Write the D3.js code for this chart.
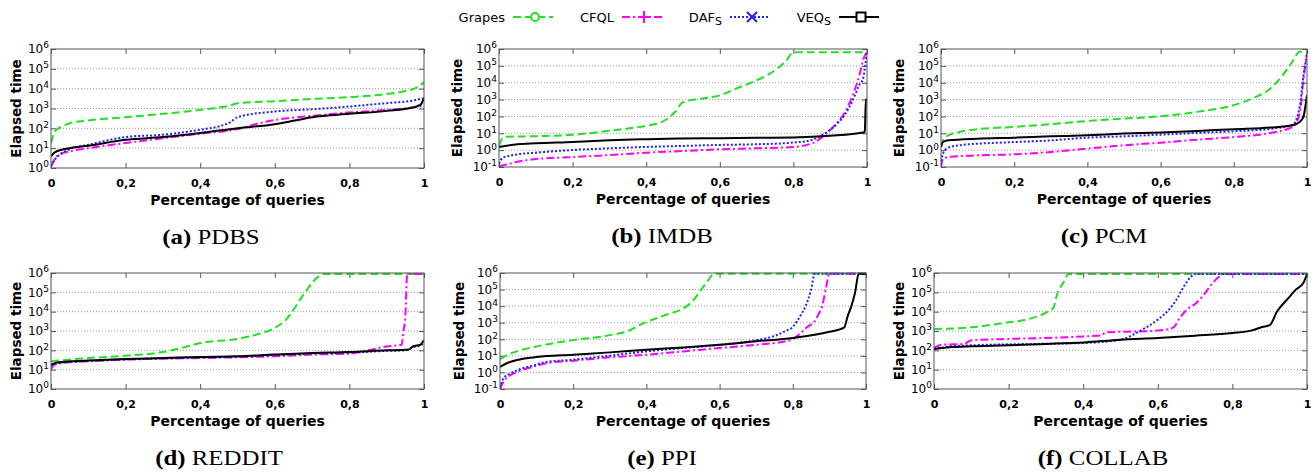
<!DOCTYPE html>
<html>
<head>
<meta charset="utf-8">
<script src="https://cdn.jsdelivr.net/npm/d3@7"></script>
<style>
  body { margin: 0; background: #fff; }
  svg { display: block; }
</style>
</head>
<body>
<svg id="chart" width="1316" height="472"></svg>
<script>
// --- data ---
// each point: [fraction of queries, log10(elapsed time)]
const algorithms = ["Grapes", "CFQL", "DAF", "VEQ"];
const algorithmSubs = ["", "", "S", "S"];
const xTicks = [0, 0.2, 0.4, 0.6, 0.8, 1];
const xTickLabels = ["0", "0,2", "0,4", "0,6", "0,8", "1"];

// (a) PDBS
const pdbsGrapes = [[0,1.26],[0.005,1.6],[0.01,1.84],[0.03,2.1],[0.05,2.26],[0.1,2.4],[0.2,2.56],[0.3,2.73],[0.4,2.93],[0.45,3.05],[0.48,3.15],[0.5,3.27],[0.6,3.37],[0.7,3.48],[0.8,3.57],[0.9,3.73],[0.95,3.88],[0.98,4.05],[1,4.32]];
const pdbsCfql = [[0,0.08],[0.01,0.45],[0.02,0.67],[0.05,0.84],[0.1,1.0],[0.2,1.26],[0.3,1.5],[0.4,1.73],[0.5,1.96],[0.55,2.22],[0.6,2.42],[0.7,2.63],[0.8,2.8],[0.9,2.93],[0.97,3.05],[1,3.13]];
const pdbsDafs = [[0,0.08],[0.01,0.42],[0.03,0.75],[0.05,0.95],[0.1,1.17],[0.2,1.56],[0.3,1.68],[0.4,1.93],[0.45,2.1],[0.48,2.3],[0.5,2.56],[0.6,2.85],[0.7,2.96],[0.8,3.1],[0.9,3.27],[0.97,3.4],[1,3.52]];
const pdbsVeqs = [[0,0.59],[0.01,0.79],[0.05,1.0],[0.1,1.12],[0.2,1.42],[0.3,1.56],[0.4,1.76],[0.5,2.01],[0.6,2.21],[0.65,2.38],[0.7,2.56],[0.8,2.73],[0.9,2.88],[0.97,3.05],[0.99,3.18],[1,3.52]];

// (b) IMDB
const imdbGrapes = [[0,0.25],[0.005,0.55],[0.01,0.71],[0.02,0.79],[0.1,0.83],[0.2,0.91],[0.3,1.15],[0.4,1.45],[0.44,1.65],[0.46,1.9],[0.48,2.3],[0.5,2.85],[0.55,3.05],[0.6,3.25],[0.65,3.7],[0.7,4.14],[0.75,4.74],[0.78,5.3],[0.8,5.8],[1,5.8]];
const imdbCfql = [[0,-0.95],[0.02,-0.85],[0.05,-0.69],[0.1,-0.53],[0.2,-0.41],[0.3,-0.29],[0.4,-0.15],[0.5,-0.05],[0.6,0.05],[0.7,0.11],[0.8,0.19],[0.85,0.4],[0.88,0.8],[0.9,1.2],[0.92,1.65],[0.94,2.25],[0.96,3.2],[0.98,4.5],[0.99,5.4],[1,5.84]];
const imdbDafs = [[0,-0.81],[0.01,-0.45],[0.05,-0.25],[0.1,-0.15],[0.2,0.01],[0.3,0.11],[0.4,0.19],[0.5,0.25],[0.6,0.31],[0.7,0.35],[0.8,0.45],[0.85,0.6],[0.87,0.8],[0.9,1.2],[0.92,1.6],[0.94,2.1],[0.96,2.9],[0.98,3.9],[0.99,4.3],[0.995,5.0],[1,5.84]];
const imdbVeqs = [[0,0.19],[0.05,0.35],[0.1,0.41],[0.2,0.49],[0.3,0.59],[0.4,0.65],[0.5,0.69],[0.6,0.71],[0.7,0.73],[0.8,0.75],[0.9,0.85],[0.99,1.05],[0.994,1.1],[0.997,3.0],[1,3.0]];

// (c) PCM
const pcmGrapes = [[0,0.19],[0.005,0.58],[0.02,0.88],[0.05,1.08],[0.1,1.24],[0.2,1.38],[0.3,1.54],[0.4,1.73],[0.5,1.87],[0.6,2.01],[0.7,2.27],[0.8,2.67],[0.85,3.06],[0.9,3.66],[0.93,4.35],[0.96,5.25],[0.98,5.84],[1,5.84]];
const pcmCfql = [[0,-1.0],[0.005,-0.5],[0.02,-0.41],[0.1,-0.31],[0.2,-0.25],[0.3,-0.11],[0.4,0.09],[0.5,0.29],[0.6,0.44],[0.7,0.62],[0.8,0.78],[0.9,1.02],[0.96,1.38],[0.98,2.17],[0.99,4.15],[1,5.74]];
const pcmDafs = [[0,-0.9],[0.005,-0.21],[0.02,0.15],[0.05,0.29],[0.1,0.38],[0.2,0.48],[0.3,0.58],[0.4,0.74],[0.5,0.82],[0.6,0.92],[0.7,1.02],[0.8,1.12],[0.9,1.26],[0.96,1.48],[0.98,2.57],[0.99,4.35],[1,5.74]];
const pcmVeqs = [[0,0.19],[0.005,0.48],[0.02,0.58],[0.1,0.68],[0.2,0.74],[0.3,0.82],[0.4,0.88],[0.5,0.98],[0.6,1.04],[0.7,1.14],[0.8,1.24],[0.9,1.34],[0.96,1.48],[0.98,1.67],[0.99,1.97],[1,3.26]];

// (d) REDDIT
const redditGrapes = [[0,1.43],[0.02,1.47],[0.1,1.6],[0.2,1.72],[0.3,1.91],[0.35,2.12],[0.4,2.38],[0.5,2.59],[0.55,2.81],[0.6,3.16],[0.63,3.59],[0.65,4.1],[0.68,4.97],[0.72,5.86],[0.73,5.95],[1,5.95]];
const redditCfql = [[0,1.0],[0.01,1.26],[0.05,1.38],[0.1,1.43],[0.2,1.52],[0.3,1.57],[0.4,1.6],[0.5,1.64],[0.6,1.69],[0.7,1.78],[0.8,1.83],[0.85,2.0],[0.9,2.2],[0.94,2.29],[0.945,3.0],[0.95,3.76],[0.955,5.95],[1,5.95]];
const redditDafs = [[0,1.2],[0.02,1.35],[0.1,1.45],[0.2,1.53],[0.3,1.58],[0.4,1.63],[0.5,1.67],[0.6,1.75],[0.7,1.83],[0.8,1.88],[0.9,1.97],[0.95,2.0],[0.97,2.15],[0.99,2.25],[1,2.4]];
const redditVeqs = [[0,1.26],[0.02,1.38],[0.1,1.47],[0.2,1.55],[0.3,1.6],[0.4,1.66],[0.5,1.69],[0.6,1.78],[0.7,1.86],[0.8,1.91],[0.9,2.0],[0.95,2.03],[0.96,2.05],[0.97,2.2],[0.99,2.29],[1,2.52]];

// (e) PPI
const ppiGrapes = [[0,0.8],[0.02,1.05],[0.05,1.3],[0.1,1.57],[0.2,1.95],[0.3,2.25],[0.35,2.5],[0.39,2.95],[0.45,3.45],[0.51,4.0],[0.53,4.4],[0.55,5.0],[0.57,5.6],[0.585,5.96],[1,5.96]];
const ppiCfql = [[0,-1.0],[0.01,-0.54],[0.03,-0.14],[0.05,0.06],[0.1,0.41],[0.12,0.53],[0.2,0.71],[0.3,0.91],[0.4,1.07],[0.5,1.27],[0.6,1.47],[0.7,1.67],[0.78,1.88],[0.8,2.0],[0.82,2.35],[0.84,2.75],[0.86,3.1],[0.87,3.5],[0.88,4.0],[0.89,5.0],[0.9,5.96],[1,5.96]];
const ppiDafs = [[0,-0.94],[0.01,-0.34],[0.03,-0.04],[0.05,0.16],[0.1,0.47],[0.12,0.61],[0.2,0.77],[0.3,1.01],[0.4,1.27],[0.5,1.47],[0.6,1.67],[0.7,1.95],[0.75,2.2],[0.78,2.5],[0.8,2.75],[0.82,3.4],[0.835,4.0],[0.85,5.0],[0.86,5.96],[1,5.96]];
const ppiVeqs = [[0,0.33],[0.02,0.57],[0.05,0.77],[0.1,0.93],[0.2,1.07],[0.3,1.21],[0.4,1.37],[0.5,1.51],[0.6,1.67],[0.7,1.88],[0.8,2.08],[0.9,2.45],[0.94,2.7],[0.95,3.4],[0.96,4.0],[0.97,4.8],[0.98,5.96],[1,5.96]];

// (f) COLLAB
const collabGrapes = [[0,3.1],[0.1,3.19],[0.2,3.45],[0.25,3.6],[0.3,3.95],[0.32,4.2],[0.33,4.9],[0.35,5.6],[0.36,5.95],[1,5.95]];
const collabCfql = [[0,2.12],[0.02,2.29],[0.08,2.33],[0.1,2.52],[0.2,2.59],[0.3,2.64],[0.4,2.72],[0.45,2.78],[0.46,2.93],[0.55,2.98],[0.6,3.02],[0.64,3.16],[0.66,3.7],[0.68,4.15],[0.7,4.4],[0.72,4.79],[0.74,5.31],[0.76,5.74],[0.775,5.95],[1,5.95]];
const collabDafs = [[0,2.07],[0.05,2.21],[0.1,2.26],[0.2,2.31],[0.3,2.34],[0.4,2.38],[0.5,2.55],[0.55,2.98],[0.6,3.59],[0.63,4.1],[0.65,4.62],[0.67,5.31],[0.69,5.83],[0.7,5.95],[1,5.95]];
const collabVeqs = [[0,2.07],[0.05,2.17],[0.1,2.21],[0.2,2.26],[0.3,2.33],[0.4,2.41],[0.5,2.55],[0.6,2.64],[0.7,2.76],[0.8,2.9],[0.85,3.02],[0.88,3.21],[0.9,3.3],[0.92,4.02],[0.95,4.7],[0.97,5.14],[0.99,5.48],[1,5.95]];

// --- layout ---
const panels = [
  { letter: "a", name: "PDBS",   minExp: 0,  x0: 51,  x1: 424,  y0: 49,  y1: 168, yLabelX: 16,  capX: 211,  series: [pdbsGrapes, pdbsCfql, pdbsDafs, pdbsVeqs] },
  { letter: "b", name: "IMDB",   minExp: -1, x0: 499, x1: 867,  y0: 49,  y1: 167, yLabelX: 457, capX: 662,  series: [imdbGrapes, imdbCfql, imdbDafs, imdbVeqs] },
  { letter: "c", name: "PCM",    minExp: -1, x0: 941, x1: 1307, y0: 49,  y1: 167, yLabelX: 899, capX: 1104, series: [pcmGrapes, pcmCfql, pcmDafs, pcmVeqs] },
  { letter: "d", name: "REDDIT", minExp: 0,  x0: 51,  x1: 424,  y0: 273, y1: 389, yLabelX: 16,  capX: 219,  series: [redditGrapes, redditCfql, redditDafs, redditVeqs] },
  { letter: "e", name: "PPI",    minExp: -1, x0: 500, x1: 866,  y0: 273, y1: 389, yLabelX: 459, capX: 662,  series: [ppiGrapes, ppiCfql, ppiDafs, ppiVeqs] },
  { letter: "f", name: "COLLAB", minExp: 0,  x0: 934, x1: 1307, y0: 273, y1: 389, yLabelX: 899, capX: 1103, series: [collabGrapes, collabCfql, collabDafs, collabVeqs] }
];

const styles = [
  { color: "#22e022", dash: "8,4" },
  { color: "#ff00ff", dash: "8,3,2,3" },
  { color: "#1f1fff", dash: "2,2" },
  { color: "#000000", dash: null }
];

const sans = "'DejaVu Sans', Verdana, sans-serif";
const svg = d3.select("#chart");

panels.forEach(p => drawPanel(p));
drawLegend();

function drawPanel(p) {
  const g = svg.append("g");
  const x = d3.scaleLinear().domain([0, 1]).range([p.x0, p.x1]);
  const y = d3.scaleLog().domain([Math.pow(10, p.minExp), 1e6]).range([p.y1, p.y0]);
  const exps = d3.range(p.minExp, 7);
  const yTickVals = exps.map(e => Math.pow(10, e));

  // gridlines
  g.selectAll(".grid")
    .data(yTickVals.slice(1, -1))
    .join("line")
    .attr("x1", p.x0).attr("x2", p.x1)
    .attr("y1", d => y(d)).attr("y2", d => y(d))
    .attr("stroke", "#9a9a9a")
    .attr("stroke-width", 1)
    .attr("stroke-dasharray", "1,2");

  // axes (ticks inside the frame, like gnuplot)
  const bottom = g.append("g")
    .attr("transform", `translate(0,${p.y1})`)
    .call(d3.axisBottom(x).tickValues(xTicks).tickFormat((d, i) => xTickLabels[i]).tickSizeInner(-5).tickSizeOuter(0).tickPadding(11));
  bottom.selectAll("text").attr("font-family", sans).attr("font-size", 11).attr("font-weight", "bold").attr("fill", "#000");

  g.append("g")
    .attr("transform", `translate(0,${p.y0})`)
    .call(d3.axisTop(x).tickValues(xTicks).tickFormat("").tickSizeInner(-5).tickSizeOuter(0));

  const left = g.append("g")
    .attr("transform", `translate(${p.x0},0)`)
    .call(d3.axisLeft(y).tickValues(yTickVals).tickFormat("").tickSizeInner(-5).tickSizeOuter(0).tickPadding(2));
  left.selectAll(".tick text")
    .attr("font-family", sans).attr("font-size", 12).attr("fill", "#000")
    .each(function(d) {
      const t = d3.select(this);
      t.append("tspan").text("10");
      t.append("tspan").attr("font-size", 9).attr("dy", "-0.55em").text(Math.round(Math.log10(d)));
    });

  g.append("g")
    .attr("transform", `translate(${p.x1},0)`)
    .call(d3.axisRight(y).tickValues(yTickVals).tickFormat("").tickSizeInner(-5).tickSizeOuter(0));

  g.selectAll(".domain").remove();
  g.selectAll(".tick line").attr("stroke", "#555");

  // curves
  const clipId = "clip-" + p.letter;
  svg.append("clipPath").attr("id", clipId)
    .append("rect")
    .attr("x", p.x0).attr("y", p.y0 - 1)
    .attr("width", p.x1 - p.x0).attr("height", p.y1 - p.y0 + 2);

  const line = d3.line()
    .x(d => x(d[0]))
    .y(d => y(Math.pow(10, d[1])))
    .curve(d3.curveMonotoneX);

  g.append("g").attr("clip-path", `url(#${clipId})`)
    .selectAll("path")
    .data(p.series)
    .join("path")
    .attr("d", line)
    .attr("fill", "none")
    .attr("stroke", (d, i) => styles[i].color)
    .attr("stroke-width", 2)
    .attr("stroke-dasharray", (d, i) => styles[i].dash);

  // frame
  g.append("rect")
    .attr("x", p.x0).attr("y", p.y0)
    .attr("width", p.x1 - p.x0).attr("height", p.y1 - p.y0)
    .attr("fill", "none")
    .attr("stroke", "#555")
    .attr("stroke-width", 1);

  // axis titles
  g.append("text")
    .attr("x", (p.x0 + p.x1) / 2)
    .attr("y", p.y1 + 37)
    .attr("text-anchor", "middle")
    .attr("font-family", sans).attr("font-size", 14).attr("font-weight", "bold")
    .text("Percentage of queries");

  g.append("text")
    .attr("transform", `translate(${p.yLabelX},${(p.y0 + p.y1) / 2}) rotate(-90)`)
    .attr("dy", "0.36em")
    .attr("text-anchor", "middle")
    .attr("font-family", sans).attr("font-size", 13.5).attr("font-weight", "bold")
    .text("Elapsed time");

  // caption (slightly widened to resemble Computer Modern)
  const cap = g.append("text")
    .attr("transform", `translate(${p.capX},${p.y1 + 76}) scale(1.13,1)`)
    .attr("text-anchor", "middle")
    .attr("font-family", "'Liberation Serif', 'Times New Roman', serif")
    .attr("font-size", 22);
  cap.append("tspan").attr("font-weight", "bold").text(`(${p.letter})`);
  cap.append("tspan").text(" " + p.name);
}

function drawLegend() {
  const ly = 17;
  const lineX0 = [513, 622, 730, 839];
  const sampleLen = 40;
  const lg = svg.append("g");

  algorithms.forEach((name, i) => {
    const x0 = lineX0[i];
    const t = lg.append("text")
      .attr("x", x0 - 8).attr("y", ly + 4.5)
      .attr("text-anchor", "end")
      .attr("font-family", sans).attr("font-size", 13)
      .text(name);
    if (algorithmSubs[i]) {
      t.append("tspan").attr("font-size", 11).attr("dy", 3.5).text(algorithmSubs[i]);
    }

    lg.append("line")
      .attr("x1", x0).attr("x2", x0 + sampleLen)
      .attr("y1", ly).attr("y2", ly)
      .attr("stroke", styles[i].color)
      .attr("stroke-width", 2)
      .attr("stroke-dasharray", styles[i].dash);

    const mx = x0 + sampleLen / 2 + 2;
    const c = styles[i].color;
    if (i === 0) {
      lg.append("circle").attr("cx", mx).attr("cy", ly).attr("r", 4)
        .attr("fill", "#fff").attr("stroke", c).attr("stroke-width", 2);
    } else if (i === 1) {
      lg.append("path").attr("d", `M${mx - 6},${ly}H${mx + 6}M${mx},${ly - 6}V${ly + 6}`)
        .attr("stroke", c).attr("stroke-width", 2);
    } else if (i === 2) {
      lg.append("path").attr("d", `M${mx - 5},${ly - 5}L${mx + 5},${ly + 5}M${mx - 5},${ly + 5}L${mx + 5},${ly - 5}`)
        .attr("stroke", c).attr("stroke-width", 2);
    } else {
      lg.append("rect").attr("x", mx - 4.5).attr("y", ly - 4.5).attr("width", 9).attr("height", 9)
        .attr("fill", "#fff").attr("stroke", c).attr("stroke-width", 2);
    }
  });
}
</script>
</body>
</html>
